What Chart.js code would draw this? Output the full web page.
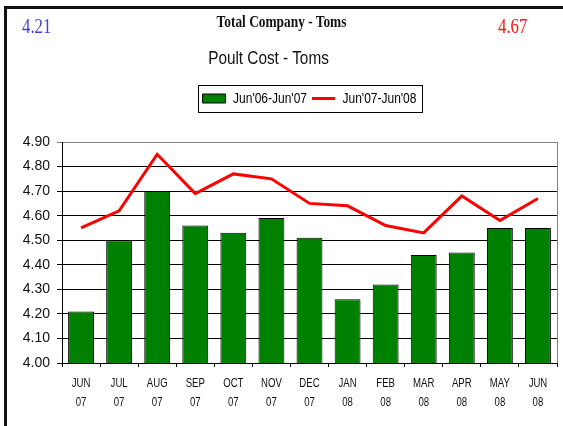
<!DOCTYPE html>
<html>
<head>
<meta charset="utf-8">
<script src="https://cdn.jsdelivr.net/npm/chart.js@4/dist/chart.umd.min.js"></script>
<style>
  html, body { margin: 0; padding: 0; background: #fff; }
  #wrap { position: relative; width: 563px; height: 426px; overflow: hidden; }
  #frame { position: absolute; left: 4px; top: 6px; right: -10px; bottom: -10px;
           border-left: 3px solid #111; border-top: 3px solid #111; }
  canvas { position: absolute; left: 0; top: 0; }
  .txt { position: absolute; white-space: nowrap; line-height: 1; }
  #head { left: 0; width: 563px; top: 12px; text-align: center; transform: scaleX(0.81);
          font: bold 16.5px "Liberation Serif", serif; color: #111; }
  #first { left: 22px; top: 15px; font: 20px "Liberation Serif", serif; color: #4040e0;
           transform: scaleX(0.84); transform-origin: left center; }
  #last { left: 498px; top: 15px; font: 20px "Liberation Serif", serif; color: #ff1010;
          transform: scaleX(0.84); transform-origin: left center; }
  #title { left: 0; width: 537px; top: 47px; text-align: center; transform: scaleX(0.82);
           font: 18.7px "Liberation Sans", sans-serif; color: #111; }
</style>
</head>
<body>
<div id="wrap">
  <canvas id="costChart" width="563" height="426"></canvas>
  <div id="frame"></div>
  <div class="txt" id="head">Total Company - Toms</div>
  <div class="txt" id="first">4.21</div>
  <div class="txt" id="last">4.67</div>
  <div class="txt" id="title">Poult Cost - Toms</div>
</div>
<script>
// months shown on the x axis (two lines each)
const months = ['JUN', 'JUL', 'AUG', 'SEP', 'OCT', 'NOV', 'DEC', 'JAN', 'FEB', 'MAR', 'APR', 'MAY', 'JUN'];
const years = ['07', '07', '07', '07', '07', '07', '07', '08', '08', '08', '08', '08', '08'];

// poult cost per series
const prevYear = [4.21, 4.50, 4.70, 4.56, 4.53, 4.59, 4.51, 4.26, 4.32, 4.44, 4.45, 4.55, 4.55];
const currYear = [4.55, 4.62, 4.85, 4.69, 4.77, 4.75, 4.65, 4.64, 4.56, 4.53, 4.68, 4.58, 4.67];

const seriesNames = ["Jun'06-Jun'07", "Jun'07-Jun'08"];
const yMin = 4.0, yMax = 4.9, yStep = 0.1;

const sans = '"Liberation Sans", Arial, sans-serif';
// fonts tagged with "squish" get drawn narrower (the original uses a condensed face)
const narrow = '"Liberation Sans", squish, sans-serif';
const SQUISH = 0.8;

const canvas = document.getElementById('costChart');
const ctx2d = canvas.getContext('2d');
const origFill = ctx2d.fillText;
const origMeasure = ctx2d.measureText;
ctx2d.fillText = function (text, x, y, maxWidth) {
    if (!/squish/.test(this.font)) return origFill.apply(this, arguments);
    this.save();
    this.translate(x, y);
    this.scale(SQUISH, 1);
    if (maxWidth === undefined) origFill.call(this, text, 0, 0);
    else origFill.call(this, text, 0, 0, maxWidth / SQUISH);
    this.restore();
};
ctx2d.measureText = function (text) {
    const m = origMeasure.call(this, text);
    if (!/squish/.test(this.font)) return m;
    return {
        width: m.width * SQUISH,
        actualBoundingBoxLeft: m.actualBoundingBoxLeft * SQUISH,
        actualBoundingBoxRight: m.actualBoundingBoxRight * SQUISH,
        actualBoundingBoxAscent: m.actualBoundingBoxAscent,
        actualBoundingBoxDescent: m.actualBoundingBoxDescent
    };
};

// legend gets a frame and some extra room under it
const legendFrame = {
    id: 'legendFrame',
    beforeUpdate(chart) {
        const lg = chart.legend;
        if (!lg || lg._patched) return;
        const fit = lg.fit;
        lg.fit = function () {
            fit.call(this);
            this.height += 26;
        };
        lg._patched = true;
    },
    afterDraw(chart) {
        const lg = chart.legend;
        const boxes = lg.legendHitBoxes;
        if (!boxes || !boxes.length) return;
        const first = boxes[0], last = boxes[boxes.length - 1];
        const ctx = chart.ctx;
        ctx.save();
        ctx.strokeStyle = '#000';
        ctx.lineWidth = 1;
        ctx.strokeRect(Math.round(first.left - 5) + 0.5, Math.round(lg.top) - 0.5,
            Math.round(last.left + last.width - first.left + 10), 27);
        ctx.restore();
    }
};

// grey plot border on the right side
const plotBorder = {
    id: 'plotBorder',
    beforeDatasetsDraw(chart) {
        const a = chart.chartArea;
        const ctx = chart.ctx;
        ctx.save();
        ctx.strokeStyle = '#808080';
        ctx.lineWidth = 1;
        ctx.beginPath();
        ctx.moveTo(Math.round(a.right) + 0.5, a.top);
        ctx.lineTo(Math.round(a.right) + 0.5, a.bottom);
        ctx.stroke();
        ctx.restore();
    }
};

new Chart(canvas, {
    data: {
        labels: months.map((m, i) => [m, years[i]]),
        datasets: [
            {
                type: 'line',
                label: seriesNames[1],
                data: currYear,
                borderColor: '#ff0000',
                backgroundColor: '#ff0000',
                borderWidth: 3,
                pointRadius: 0,
                tension: 0,
                order: 0
            },
            {
                type: 'bar',
                label: seriesNames[0],
                data: prevYear,
                backgroundColor: '#008000',
                borderColor: '#000',
                borderWidth: 1,
                barPercentage: 0.68,
                categoryPercentage: 1,
                order: 1
            }
        ]
    },
    options: {
        responsive: false,
        animation: false,
        layout: { padding: { top: 86, right: 6, left: 0, bottom: 0 } },
        plugins: {
            title: { display: false },
            tooltip: { enabled: false },
            legend: {
                position: 'top',
                fullSize: false,
                reverse: true,
                labels: {
                    usePointStyle: true,
                    pointStyleWidth: 23,
                    boxHeight: 9,
                    padding: 5,
                    color: '#111',
                    font: { family: narrow, size: 15 },
                    generateLabels(chart) {
                        return chart.data.datasets.map((ds, i) => ({
                            text: ds.label,
                            datasetIndex: i,
                            fillStyle: ds.backgroundColor,
                            strokeStyle: ds.type === 'line' ? ds.borderColor : '#000',
                            lineWidth: ds.type === 'line' ? 3 : 1,
                            pointStyle: ds.type === 'line' ? 'line' : 'rect',
                            hidden: false
                        }));
                    }
                }
            }
        },
        scales: {
            x: {
                offset: true,
                grid: {
                    display: true,
                    offset: true,
                    drawOnChartArea: false,
                    drawTicks: true,
                    tickLength: 4,
                    color: '#000'
                },
                border: { display: true, color: '#000', width: 1 },
                ticks: {
                    color: '#111',
                    autoSkip: false,
                    maxRotation: 0,
                    padding: 7,
                    font: { family: narrow, size: 12, lineHeight: 1.6 }
                },
                afterFit(scale) { scale.height = 63; }
            },
            y: {
                min: yMin,
                max: yMax,
                ticks: {
                    stepSize: yStep,
                    color: '#111',
                    padding: 7,
                    font: { family: sans, size: 14 },
                    callback: v => Number(v).toFixed(2)
                },
                grid: {
                    color: ctx => (ctx.tick && Math.abs(ctx.tick.value - yMax) < 1e-6) ? '#808080' : '#000',
                    lineWidth: 1,
                    tickLength: 5,
                    drawTicks: true
                },
                border: { display: true, color: '#000', width: 1 },
                afterFit(scale) { scale.width = 62; }
            }
        }
    },
    plugins: [legendFrame, plotBorder]
});
</script>
</body>
</html>
